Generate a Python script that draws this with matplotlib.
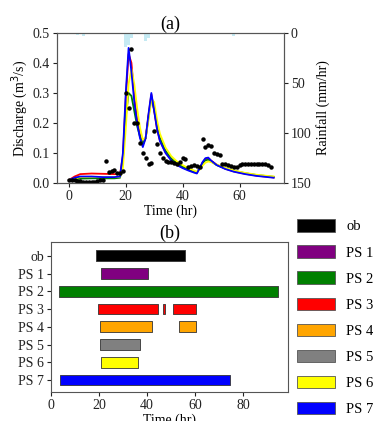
import matplotlib
matplotlib.use('Agg')
import matplotlib.pyplot as plt
from matplotlib.patches import Patch

plt.rcParams['font.family'] = ['Liberation Serif', 'DejaVu Serif']
plt.rcParams['font.size'] = 10

# ---- panel (a): hydrograph ----
obs_t = list(range(0, 72))
obs_q = [0.012, 0.012, 0.010, 0.008, 0.006, 0.005, 0.004, 0.004, 0.004, 0.005,
         0.007, 0.010, 0.012, 0.073, 0.038, 0.040, 0.045, 0.035, 0.035, 0.040,
         0.300, 0.250, 0.445, 0.200, 0.200, 0.135, 0.100, 0.085, 0.065, 0.068,
         0.175, 0.130, 0.100, 0.085, 0.075, 0.070, 0.070, 0.068, 0.065, 0.070,
         0.085, 0.080, 0.055, 0.058, 0.060, 0.058, 0.055, 0.148, 0.120, 0.128,
         0.125, 0.100, 0.098, 0.095, 0.065, 0.065, 0.060, 0.058, 0.055, 0.053,
         0.060, 0.062, 0.065, 0.065, 0.063, 0.062, 0.062, 0.062, 0.062, 0.062,
         0.060, 0.055]

sim_t = [0, 2, 4, 8, 12, 16, 18, 19, 20, 21, 22, 23, 24, 25, 26, 27, 28, 29, 30,
         31, 32, 34, 36, 38, 40, 42, 44, 45, 46, 47, 48, 49, 50, 52, 55, 58, 62,
         66, 70, 72]
red_q = [0.010, 0.022, 0.030, 0.032, 0.031, 0.030, 0.030, 0.090, 0.280, 0.430,
         0.400, 0.290, 0.210, 0.160, 0.128, 0.150, 0.225, 0.295, 0.240, 0.180,
         0.142, 0.102, 0.078, 0.062, 0.052, 0.044, 0.037, 0.034, 0.050, 0.068,
         0.080, 0.083, 0.075, 0.061, 0.048, 0.039, 0.031, 0.025, 0.021, 0.019]
green_q = [0.008, 0.012, 0.015, 0.016, 0.016, 0.016, 0.018, 0.080, 0.220, 0.300,
           0.290, 0.240, 0.190, 0.155, 0.130, 0.150, 0.220, 0.285, 0.245, 0.190,
           0.150, 0.108, 0.082, 0.066, 0.055, 0.046, 0.039, 0.036, 0.050, 0.066,
           0.076, 0.078, 0.072, 0.060, 0.049, 0.041, 0.033, 0.027, 0.023, 0.021]
yellow_q = [0.010, 0.016, 0.020, 0.021, 0.020, 0.020, 0.021, 0.050, 0.180, 0.330,
            0.380, 0.330, 0.250, 0.185, 0.145, 0.150, 0.210, 0.280, 0.270, 0.210,
            0.165, 0.118, 0.090, 0.072, 0.060, 0.050, 0.042, 0.038, 0.045, 0.058,
            0.068, 0.072, 0.070, 0.062, 0.051, 0.042, 0.034, 0.028, 0.024, 0.022]
blue_q = [0.010, 0.018, 0.022, 0.022, 0.020, 0.020, 0.022, 0.100, 0.300, 0.450,
          0.370, 0.270, 0.200, 0.150, 0.120, 0.150, 0.230, 0.300, 0.240, 0.180,
          0.140, 0.100, 0.075, 0.060, 0.050, 0.042, 0.035, 0.032, 0.050, 0.070,
          0.083, 0.085, 0.075, 0.060, 0.047, 0.038, 0.030, 0.024, 0.020, 0.018]

rain_t = [3, 5, 20, 21, 22, 27, 28, 58]
rain_mm = [2, 3, 14, 12, 5, 8, 5, 3]

# ---- panel (b): time windows ----
labels = ['ob', 'PS 1', 'PS 2', 'PS 3', 'PS 4', 'PS 5', 'PS 6', 'PS 7']
colors = ['black', 'purple', 'green', 'red', 'orange', 'gray', 'yellow', 'blue']
# (start, duration) per row, some rows have several windows
windows = [
    [(19, 37)],
    [(21, 19.5)],
    [(3.5, 91)],
    [(19.5, 25), (46.5, 1), (51, 9.5)],
    [(20.5, 21.5), (53.5, 7)],
    [(20.5, 16.5)],
    [(21, 15.5)],
    [(4, 70.5)],
]

fig = plt.figure(figsize=(3.77, 4.21), dpi=100)

ax1 = fig.add_axes([0.151, 0.565, 0.602, 0.357])
ax1.plot(sim_t, red_q, color='red', lw=1.3)
ax1.plot(sim_t, green_q, color='green', lw=1.3)
ax1.plot(sim_t, yellow_q, color='yellow', lw=1.3)
ax1.plot(sim_t, blue_q, color='blue', lw=1.3)
ax1.plot(obs_t, obs_q, 'o', color='black', ms=2.2)
ax1.set_xlim(-4.2, 75.6)
ax1.set_ylim(0, 0.5)
ax1.set_xticks([0, 20, 40, 60])
ax1.set_yticks([0.0, 0.1, 0.2, 0.3, 0.4, 0.5])
ax1.set_xlabel('Time (hr)', labelpad=1)
ax1.set_ylabel('Discharge (m$^3$/s)', labelpad=2)
ax1.set_title('(a)', fontsize=13, pad=2)

ax2 = ax1.twinx()
ax2.bar(rain_t, rain_mm, width=1, color='#9fdcec', alpha=0.6)
ax2.set_ylim(150, 0)
ax2.set_yticks([0, 50, 100, 150])
ax2.set_ylabel('Rainfall (mm/hr)', labelpad=3)

ax3 = fig.add_axes([0.135, 0.069, 0.629, 0.356])
for i, row in enumerate(windows):
    ax3.broken_barh(row, (i - 0.3, 0.6), facecolors=colors[i],
                    edgecolor='#333333', linewidth=0.6)
ax3.set_ylim(7.67, -0.77)
ax3.set_xlim(0, 98.8)
ax3.set_yticks(range(len(labels)))
ax3.set_yticklabels(labels)
ax3.set_xticks([0, 20, 40, 60, 80])
ax3.set_xlabel('Time (hr)', labelpad=1)
ax3.set_title('(b)', fontsize=13, pad=2)

for ax in (ax1, ax2, ax3):
    for s in ax.spines.values():
        s.set_color('#555555')
    ax.tick_params(length=3, pad=2, colors='#222222')

handles = [Patch(facecolor=c, edgecolor='#555555', lw=0.6) for c in colors]
fig.legend(handles, labels, loc='upper left', bbox_to_anchor=(0.752, 0.51),
           frameon=False, handlelength=2.6, handleheight=0.9,
           labelspacing=0.82, handletextpad=0.8, fontsize=10.5)

fig.savefig('out.png', dpi=100)
